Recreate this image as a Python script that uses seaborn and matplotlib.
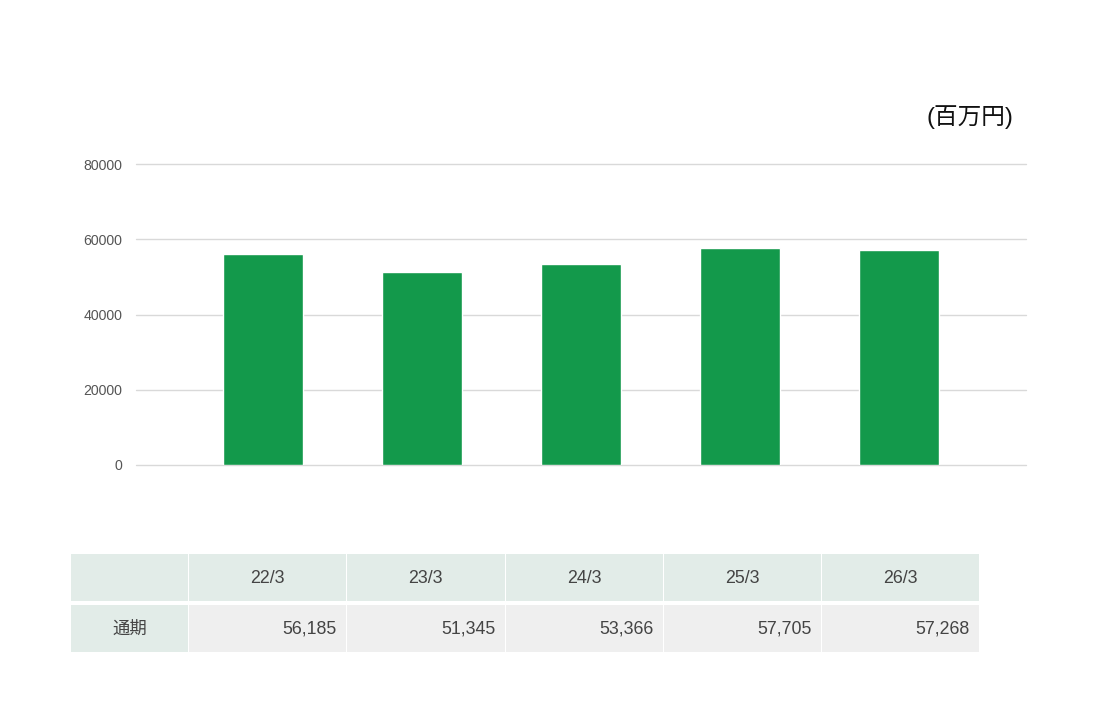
import matplotlib
matplotlib.use("Agg")
import matplotlib.pyplot as plt
import seaborn as sns
import pandas as pd
from matplotlib.patches import Rectangle

categories = ["22/3", "23/3", "24/3", "25/3", "26/3"]
values = [56185, 51345, 53366, 57705, 57268]
row_label = "通期"
unit_label = "(百万円)"
yticks = [0, 20000, 40000, 60000, 80000]

sns.set_theme(style="white")
plt.rcParams['font.family'] = ['Liberation Sans', 'Noto Sans CJK JP', 'DejaVu Sans']

W, H = 1117, 720
fig = plt.figure(figsize=(W / 100, H / 100), dpi=100)
ax = fig.add_axes([136 / W, 1 - 465 / H, (1026 - 136) / W, (465 - 164) / H])

df = pd.DataFrame({"period": categories, "value": values})
sns.barplot(data=df, x="period", y="value", color="#13994b", saturation=1,
            width=0.5, ax=ax, zorder=3)
ax.set_xlim(-0.8, 4.8)
ax.set_ylim(0, 80000)
ax.set_yticks(yticks)
ax.set_yticklabels([str(t) for t in yticks])
ax.set_xticks([])
ax.set_xlabel("")
ax.set_ylabel("")
for s in ax.spines.values():
    s.set_visible(False)
ax.grid(False)
for t in yticks:
    ax.axhline(t, color="#d9d9d9", linewidth=1, zorder=0, clip_on=False)
ax.tick_params(axis="y", length=0, pad=10, labelsize=10.2, labelcolor="#555555")

# overlay axes in pixel coordinates for table and unit label
ov = fig.add_axes([0, 0, 1, 1], zorder=5)
ov.set_xlim(0, W)
ov.set_ylim(H, 0)
ov.axis("off")
ov.patch.set_alpha(0)

ov.text(1013, 117, unit_label, ha="right", va="center", fontsize=17, color="#111111")

header_c = "#e2ece8"
cell_c = "#efefef"
col_edges = [71, 189, 347, 506, 664, 822, 980]
r1 = (554, 601)
r2 = (605, 652)
gap = 1.5
for i in range(6):
    x0, x1 = col_edges[i], col_edges[i + 1] - gap
    ov.add_patch(Rectangle((x0, r1[0]), x1 - x0, r1[1] - r1[0], color=header_c, lw=0))
    ov.add_patch(Rectangle((x0, r2[0]), x1 - x0, r2[1] - r2[0],
                           color=header_c if i == 0 else cell_c, lw=0))
ov.text((col_edges[0] + col_edges[1]) / 2, (r2[0] + r2[1]) / 2, row_label,
        ha="center", va="center", fontsize=12.5, color="#444444")
for i, (c, v) in enumerate(zip(categories, values)):
    x0, x1 = col_edges[i + 1], col_edges[i + 2] - gap
    ov.text((x0 + x1) / 2, (r1[0] + r1[1]) / 2 + 1, c, ha="center", va="center",
            fontsize=12.8, color="#444444")
    ov.text(x1 - 9, (r2[0] + r2[1]) / 2, f"{v:,}", ha="right", va="center",
            fontsize=12.8, color="#444444")

fig.savefig("out.png", dpi=100)
